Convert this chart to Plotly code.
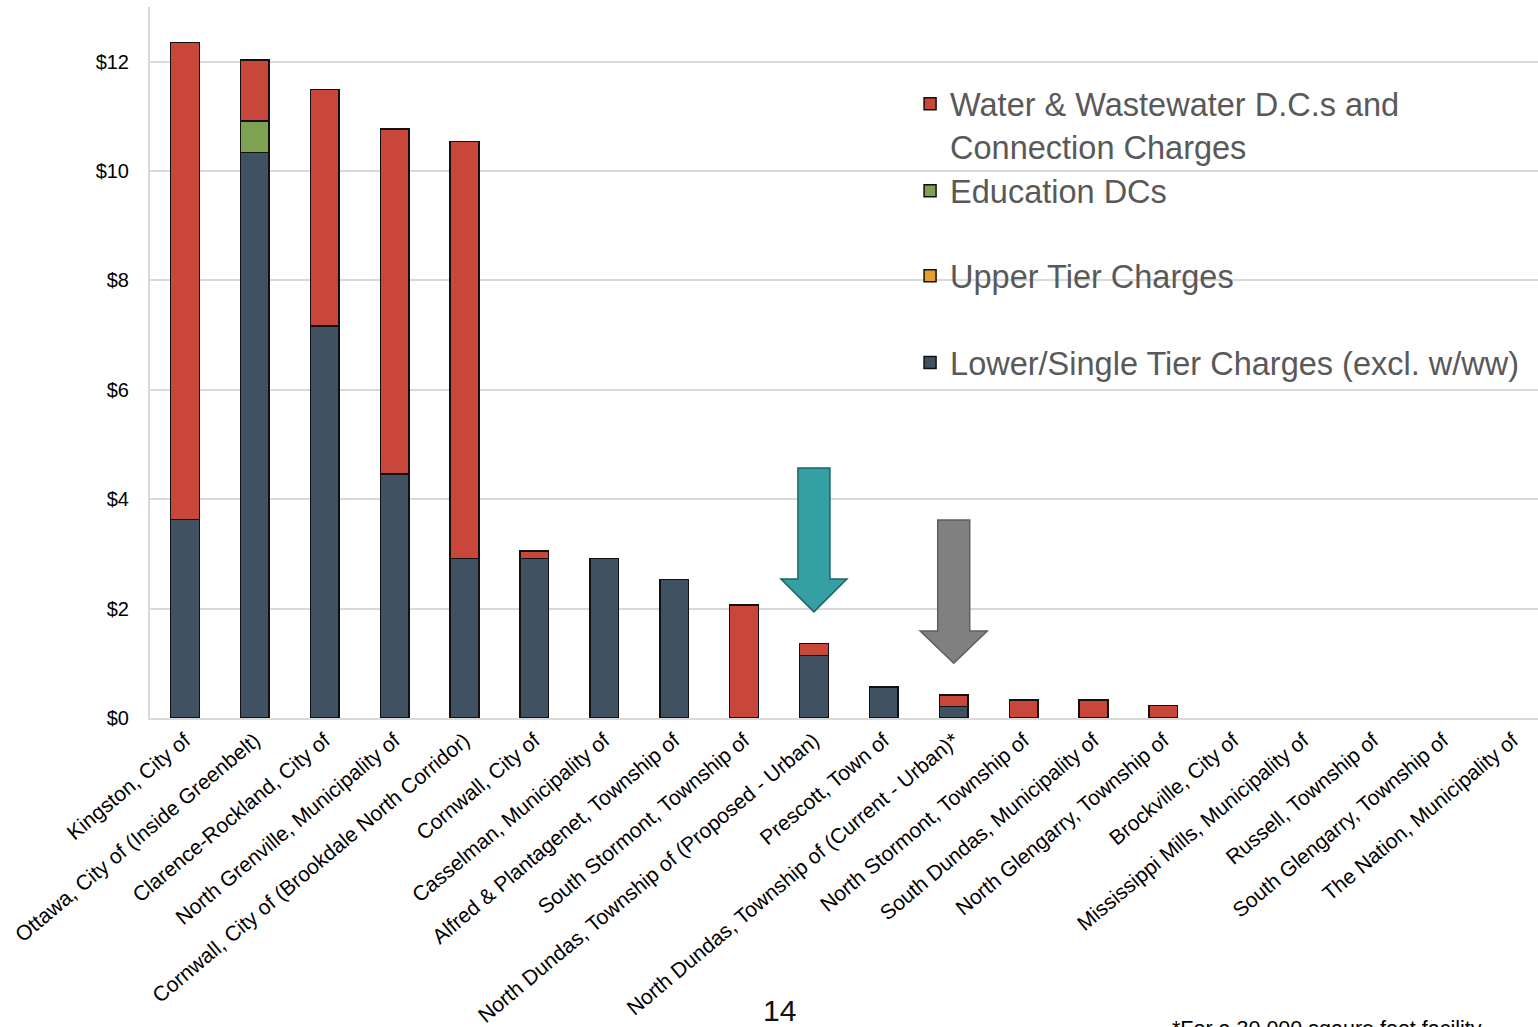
import plotly.graph_objects as go

# Municipalities, ordered by total non-residential charge
municipalities = [
    "Kingston, City of",
    "Ottawa, City of (Inside Greenbelt)",
    "Clarence-Rockland, City of",
    "North Grenville, Municipality of",
    "Cornwall, City of (Brookdale North Corridor)",
    "Cornwall, City of",
    "Casselman, Municipality of",
    "Alfred & Plantagenet, Township of",
    "South Stormont, Township of",
    "North Dundas, Township of (Proposed - Urban)",
    "Prescott, Town of",
    "North Dundas, Township of (Current - Urban)*",
    "North Stormont, Township of",
    "South Dundas, Municipality of",
    "North Glengarry, Township of",
    "Brockville, City of",
    "Mississippi Mills, Municipality of",
    "Russell, Township of",
    "South Glengarry, Township of",
    "The Nation, Municipality of",
]

# Charges per square foot ($)
lower_single_tier = [3.63, 10.34, 7.17, 4.46, 2.92, 2.92, 2.92, 2.53, 0, 1.14,
                     0.57, 0.21, 0, 0, 0, 0, 0, 0, 0, 0]
upper_tier = [0] * 20
education_dcs = [0, 0.58, 0, 0, 0, 0, 0, 0, 0, 0,
                 0, 0, 0, 0, 0, 0, 0, 0, 0, 0]
water_wastewater = [8.72, 1.11, 4.32, 6.31, 7.62, 0.13, 0, 0, 2.07, 0.22,
                    0, 0.21, 0.33, 0.33, 0.23, 0, 0, 0, 0, 0]

series = [
    ("Lower/Single Tier Charges (excl. w/ww)", lower_single_tier, "#405162", "legend4"),
    ("Upper Tier Charges", upper_tier, "#E89E2E", "legend3"),
    ("Education DCs", education_dcs, "#7FA152", "legend2"),
    ("Water & Wastewater D.C.s and<br>Connection Charges", water_wastewater, "#C8473A", "legend"),
]

idx = list(range(len(municipalities)))

fig = go.Figure()
for name, vals, color, leg in series:
    fig.add_trace(go.Bar(
        x=idx,
        y=[v if v else None for v in vals],
        name=name,
        width=0.41,
        marker=dict(color=color, line=dict(color="#111111", width=1.5)),
        legend=leg,
        hoverinfo="skip",
    ))


def down_arrow(cx, top, neck, tip, shaft=0.229, head=0.472):
    return (f"M{cx-shaft},{top} L{cx+shaft},{top} L{cx+shaft},{neck} "
            f"L{cx+head},{neck} L{cx},{tip} L{cx-head},{neck} "
            f"L{cx-shaft},{neck} Z")


shapes = [
    # white panel behind the legend
    dict(type="rect", xref="paper", yref="y", x0=0.541, x1=1.0, y0=5.55, y1=11.75,
         fillcolor="white", line=dict(width=0), layer="between"),
    # arrow over the proposed North Dundas charge
    dict(type="path", xref="x", yref="y",
         path=down_arrow(9, 4.57, 2.54, 1.94),
         fillcolor="#34A0A4", line=dict(color="#1F6366", width=1.5), layer="above"),
    # arrow over the current North Dundas charge
    dict(type="path", xref="x", yref="y",
         path=down_arrow(11, 3.62, 1.59, 1.00, head=0.48),
         fillcolor="#808080", line=dict(color="#5E5E5E", width=1.5), layer="above"),
]

legend_font = dict(family="Liberation Sans, Arial, sans-serif", size=32.5, color="#595959")


def legend_at(y):
    return dict(x=0.5476, y=y, xanchor="left", yanchor="middle", font=legend_font,
                bgcolor="rgba(0,0,0,0)", itemwidth=30, valign="top",
                itemclick=False, itemdoubleclick=False)


fig.update_layout(
    width=1538,
    height=1027,
    margin=dict(l=150, r=0, t=7, b=309),
    paper_bgcolor="white",
    plot_bgcolor="white",
    barmode="stack",
    font=dict(family="Liberation Sans, Arial, sans-serif", color="#000000"),
    shapes=shapes,
    showlegend=True,
    legend=legend_at(0.834),
    legend2=legend_at(0.741),
    legend3=legend_at(0.6215),
    legend4=legend_at(0.4995),
    xaxis=dict(
        range=[-0.5, 19.36],
        tickmode="array",
        tickvals=idx,
        ticktext=municipalities,
        tickangle=-40,
        tickfont=dict(size=21, color="#000000"),
        showgrid=False,
        zeroline=False,
        showline=True,
        linecolor="#d9d9d9",
        linewidth=2,
        ticks="",
        automargin=False,
    ),
    yaxis=dict(
        range=[0, 13],
        dtick=2,
        tick0=0,
        tickprefix="$",
        tickfont=dict(size=20, color="#000000"),
        showgrid=True,
        gridcolor="#d9d9d9",
        gridwidth=1.5,
        zeroline=False,
        showline=True,
        linecolor="#d9d9d9",
        linewidth=2,
        ticks="",
        ticklabelstandoff=15,
        automargin=False,
    ),
    annotations=[
        dict(text="14", xref="paper", yref="paper", x=(779 - 150) / 1388,
             y=-(1010 - 718) / 711, xanchor="center", yanchor="middle",
             showarrow=False, font=dict(size=30, color="#111111")),
        dict(text="*For a 30,000 sqaure foot facility", xref="paper", yref="paper",
             x=(1170 - 150) / 1388, y=-(1029 - 718) / 711, xanchor="left",
             yanchor="middle", showarrow=False, font=dict(size=21.5, color="#000000")),
    ],
)

fig.write_html("out.html")
